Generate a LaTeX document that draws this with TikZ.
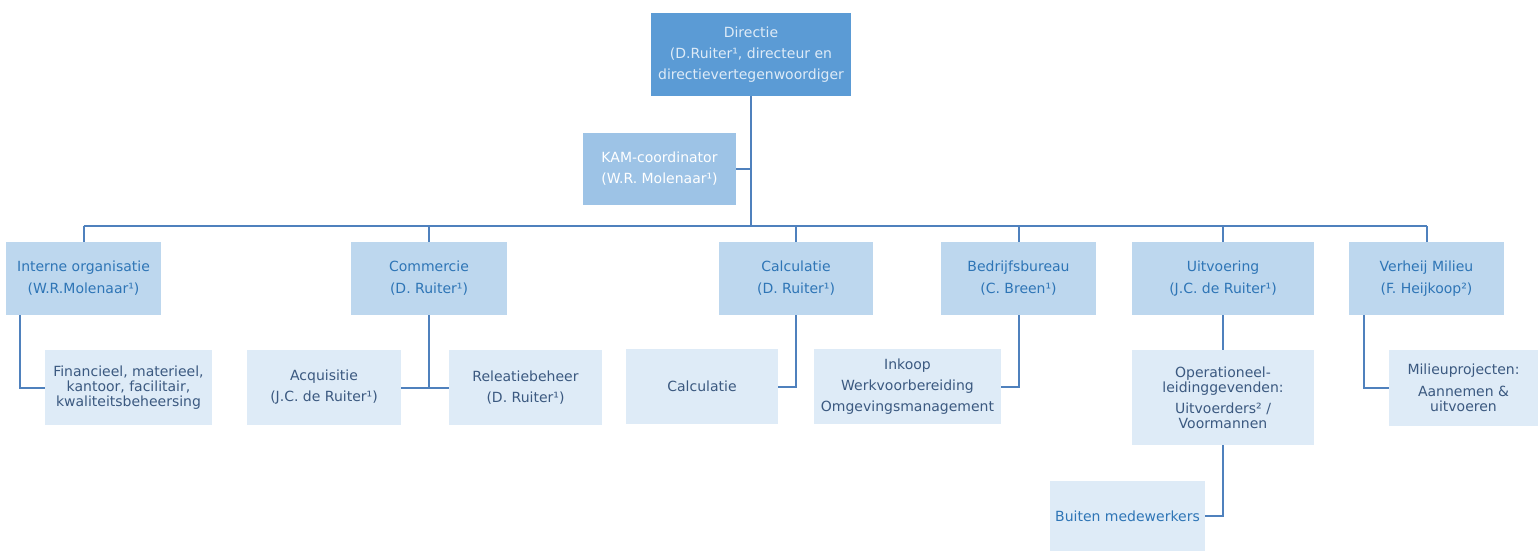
\documentclass[tikz,border=0pt]{standalone}
\usepackage{fontspec}
\setmainfont{DejaVu Sans}
\usepackage{tikz}
\usetikzlibrary{arrows,shapes}
\definecolor{dirblue}{RGB}{91,155,213}
\definecolor{kamblue}{RGB}{157,195,230}
\definecolor{deptblue}{RGB}{189,215,238}
\definecolor{subblue}{RGB}{222,235,247}
\definecolor{depttext}{RGB}{46,117,182}
\definecolor{subtext}{RGB}{59,89,128}
\definecolor{linkblue}{RGB}{79,129,189}
\tikzstyle{box}=[rectangle,inner sep=0pt,align=center,font=\fontsize{14}{15}\selectfont]
\tikzstyle{dirbox}=[box,fill=dirblue,text=subblue,minimum width=200pt,minimum height=83pt]
\tikzstyle{kambox}=[box,fill=kamblue,text=white,minimum width=153pt,minimum height=72pt]
\tikzstyle{deptbox}=[box,fill=deptblue,text=depttext,minimum height=73pt]
\tikzstyle{subbox}=[box,fill=subblue,text=subtext,minimum height=75pt]
\tikzstyle{edge} = [draw,line width=2pt,linkblue]

\begin{document}
\begin{tikzpicture}[x=1pt,y=-1pt]
      \useasboundingbox (0,0) rectangle (1538,551);
      \node[dirbox] (dir) at (751,54.5) {Directie\\[6pt](D.Ruiter¹, directeur en\\[6pt]directievertegenwoordiger};
      \node[kambox] (kam) at (659.5,169) {KAM-coordinator\\[6pt](W.R. Molenaar¹)};
      \node[deptbox,minimum width=155pt] (io) at (83.5,278.5) {Interne organisatie\\[7pt](W.R.Molenaar¹)};
      \node[deptbox,minimum width=156pt] (com) at (429,278.5) {Commercie\\[7pt](D. Ruiter¹)};
      \node[deptbox,minimum width=154pt] (calc) at (796,278.5) {Calculatie\\[7pt](D. Ruiter¹)};
      \node[deptbox,minimum width=155pt] (bb) at (1018.5,278.5) {Bedrijfsbureau\\[7pt](C. Breen¹)};
      \node[deptbox,minimum width=182pt] (uit) at (1223,278.5) {Uitvoering\\[7pt](J.C. de Ruiter¹)};
      \node[deptbox,minimum width=155pt] (vm) at (1426.5,278.5) {Verheij Milieu\\[7pt](F. Heijkoop²)};
      \node[subbox,minimum width=167pt] (fin) at (128.5,387.5) {Financieel, materieel,\\kantoor, facilitair,\\kwaliteitsbeheersing};
      \node[subbox,minimum width=154pt] (acq) at (324,387.5) {Acquisitie\\[6pt](J.C. de Ruiter¹)};
      \node[subbox,minimum width=153pt] (rel) at (525.5,387.5) {Releatiebeheer\\[6pt](D. Ruiter¹)};
      \node[subbox,minimum width=152pt] (cs) at (702,386.5) {Calculatie};
      \node[subbox,minimum width=187pt] (ink) at (907.5,386.5) {Inkoop\\[6pt]Werkvoorbereiding\\[6pt]Omgevingsmanagement};
      \node[subbox,minimum width=182pt,minimum height=95pt] (ops) at (1223,397.5) {Operationeel-\\leidinggevenden:\\[6pt]Uitvoerders² /\\Voormannen};
      \node[subbox,minimum width=149pt,minimum height=76pt] (mil) at (1463.5,388) {Milieuprojecten:\\[7pt]Aannemen \&\\uitvoeren};
      \node[subbox,text=depttext,minimum width=155pt,minimum height=70pt] (bui) at (1127.5,516) {Buiten medewerkers};
      \coordinate (bus) at (751,226);
      \draw[edge] (dir.south) -- (bus);
      \draw[edge] (kam.east) -- (kam.east -| bus);
      \draw[edge] (io.north |- bus) -- (vm.north |- bus);
      \foreach \d in {io,com,calc,bb,uit,vm}
        \draw[edge] (\d.north) -- (\d.north |- bus);
      \draw[edge] ([xshift=14pt]io.south west) |- (fin.west);
      \draw[edge] (com.south) -- (com.south |- acq.east);
      \draw[edge] (acq.east) -- (rel.west);
      \draw[edge] (calc.south) |- (cs.east);
      \draw[edge] (bb.south) |- (ink.east);
      \draw[edge] (uit.south) -- (ops.north);
      \draw[edge] (ops.south) |- (bui.east);
      \draw[edge] ([xshift=15pt]vm.south west) |- (mil.west);
\end{tikzpicture}
\end{document}
